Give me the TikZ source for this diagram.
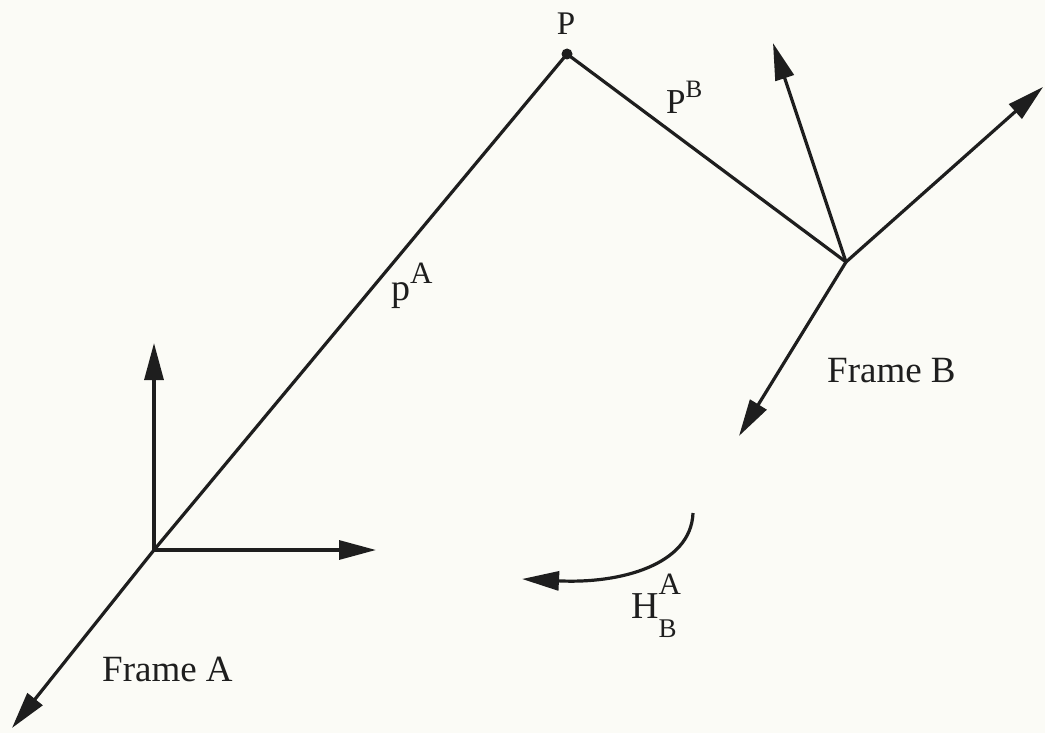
\documentclass[tikz,border=0pt]{standalone}
\usepackage{fontspec}
\setmainfont{Liberation Serif}
\usetikzlibrary{arrows.meta}
\definecolor{bg}{RGB}{251,251,246}
\definecolor{ink}{RGB}{30,30,30}
\tikzset{
  axis/.style={draw=ink, line width=3.2pt, -{Triangle[length=37pt,width=19pt]}},
  seg/.style={draw=ink, line width=3.2pt},
  lbl/.style={inner sep=0pt, text=ink, font=\fontsize{37}{40}\selectfont, anchor=base west},
}
\begin{document}
\begin{tikzpicture}[x=1pt,y=-1pt]
\fill[bg] (0,0) rectangle (1045,733);
\useasboundingbox (0,0) rectangle (1045,733);
% Frame A
\coordinate (OA) at (154,550);
\coordinate (AUp) at (154,343);
\coordinate (ARight) at (376,550);
\coordinate (ADown) at (12,728);
% Point P
\coordinate (P) at (567,54);
% Frame B
\coordinate (OB) at (846,262);
\coordinate (BUp) at (773,43);
\coordinate (BRight) at (1043,87);
\coordinate (BDown) at (739,436);
% rotation arc
\coordinate (HS) at (693,513);
\coordinate (HE) at (522,579);

\draw[seg] (P) -- (OA);
\draw[axis] (OA) -- (AUp);
\draw[axis] (OA) -- (ARight);
\draw[axis] (OA) -- (ADown);
\draw[seg] (P) -- (OB);
\draw[axis] (OB) -- (BUp);
\draw[axis] (OB) -- (BRight);
\draw[axis] (OB) -- (BDown);
\fill[ink] (P) circle (5.5);
\draw[axis] (HS) .. controls (691,565) and (620,584) .. (HE);

\node[lbl, font=\fontsize{33}{36}\selectfont, anchor=base] (lP) at (566,35) {P};
\node[lbl, font=\fontsize{35}{38}\selectfont] (lPB) at (666,114) {P\raisebox{16pt}{\fontsize{25}{27}\selectfont B}};
\node[lbl, font=\fontsize{38}{40}\selectfont] (lpA) at (391,300) {p\raisebox{17pt}{\fontsize{31}{33}\selectfont A}};
\node[lbl, font=\fontsize{38}{40}\selectfont] (lH) at (631,618) {H\rlap{\raisebox{24pt}{\fontsize{31}{33}\selectfont A}}\raisebox{-19pt}{\fontsize{27}{29}\selectfont B}};
\node[lbl] (lFA) at (102,681) {Frame A};
\node[lbl] (lFB) at (827,382) {Frame B};
\end{tikzpicture}
\end{document}
